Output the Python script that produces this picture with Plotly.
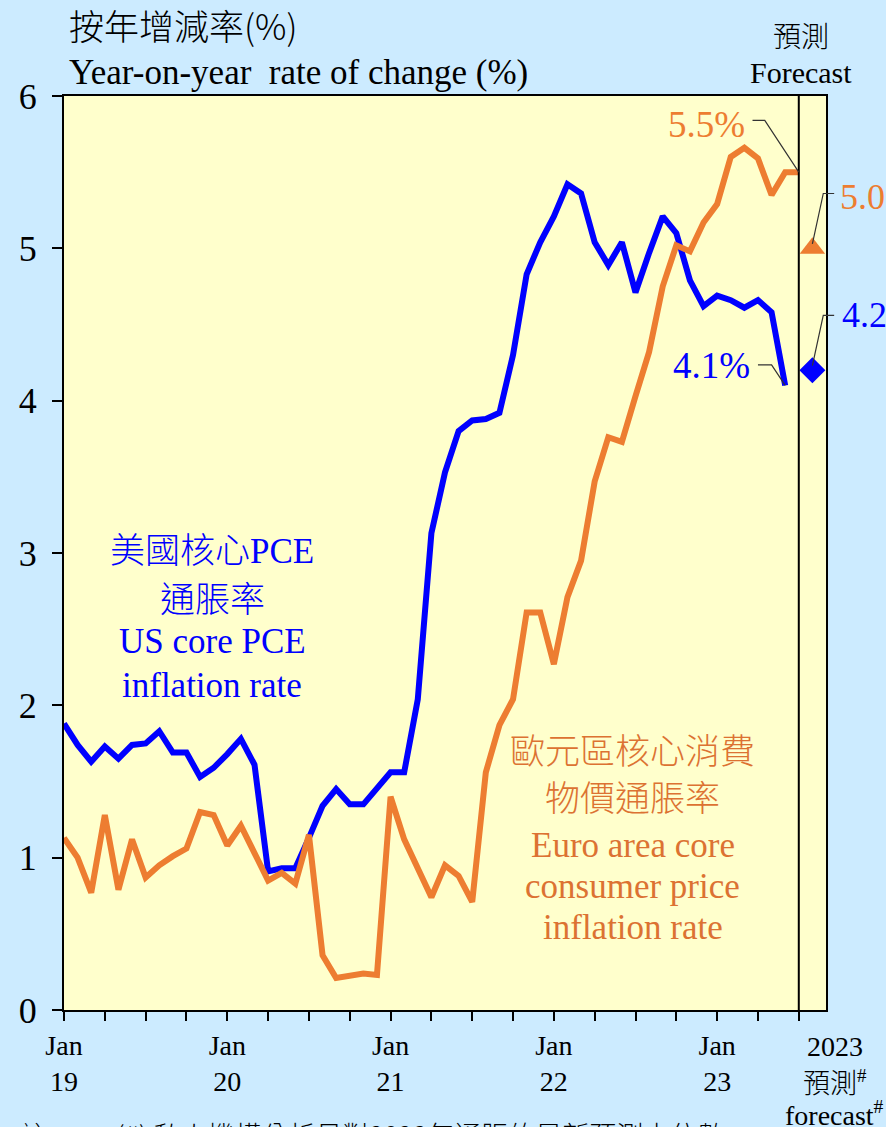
import plotly.graph_objects as go

# ---- data ----
months = list(range(55))  # Jan 2019 .. Jul 2023 (month index)
us_core_pce = [1.88, 1.74, 1.63, 1.73, 1.65, 1.74, 1.75, 1.83, 1.69, 1.69, 1.53, 1.59,
               1.68, 1.78, 1.61, 0.91, 0.93, 0.93, 1.13, 1.34, 1.45, 1.35, 1.35, 1.46,
               1.56, 1.56, 2.04, 3.13, 3.53, 3.80, 3.87, 3.88, 3.92, 4.30, 4.83, 5.04,
               5.21, 5.42, 5.36, 5.04, 4.89, 5.04, 4.71, 4.97, 5.21, 5.10, 4.79, 4.62,
               4.69, 4.66, 4.61, 4.66, 4.58, 4.10]
euro_core = [1.13, 1.00, 0.77, 1.28, 0.79, 1.12, 0.87, 0.95, 1.01, 1.06, 1.30, 1.28,
             1.08, 1.21, 1.03, 0.85, 0.90, 0.83, 1.15, 0.36, 0.21, 0.23, 0.24, 0.23,
             1.40, 1.12, 0.93, 0.74, 0.95, 0.88, 0.71, 1.56, 1.87, 2.04, 2.61, 2.61,
             2.27, 2.71, 2.95, 3.47, 3.76, 3.73, 4.03, 4.32, 4.75, 5.02, 4.98, 5.17,
             5.29, 5.60, 5.66, 5.59, 5.35, 5.50, 5.50]
forecast_x = 55
us_forecast = 4.2
euro_forecast = 5.0
divider_x = 54
year_ticks = [0, 12, 24, 36, 48]
year_labels = ["Jan<br>19", "Jan<br>20", "Jan<br>21", "Jan<br>22", "Jan<br>23"]

BLUE = "#0000FF"
ORANGE = "#ED7D31"
ORANGE_TXT = "#DC7232"
BG = "#CCEBFF"
SERIF = "Liberation Serif, Times New Roman, Noto Sans CJK TC, serif"
CJK = "Noto Sans CJK TC, Liberation Serif"

X_RANGE = [0, 56]
Y_RANGE = [0, 6]

def px(x):
    return (x - X_RANGE[0]) / (X_RANGE[1] - X_RANGE[0])

def py(y):
    return (y - Y_RANGE[0]) / (Y_RANGE[1] - Y_RANGE[0])

fig = go.Figure()
fig.add_trace(go.Scatter(x=months[:len(us_core_pce)], y=us_core_pce, mode="lines",
                         line=dict(color=BLUE, width=6), showlegend=False))
fig.add_trace(go.Scatter(x=months[:len(euro_core)], y=euro_core, mode="lines",
                         line=dict(color=ORANGE, width=6), showlegend=False))
fig.add_trace(go.Scatter(x=[forecast_x], y=[euro_forecast], mode="markers",
                         marker=dict(symbol="triangle-up", size=22, color=ORANGE),
                         showlegend=False, cliponaxis=False))
fig.add_trace(go.Scatter(x=[forecast_x], y=[us_forecast], mode="markers",
                         marker=dict(symbol="diamond", size=20, color=BLUE),
                         showlegend=False, cliponaxis=False))

# forecast divider
fig.add_shape(type="line", xref="x", yref="y", x0=divider_x, x1=divider_x, y0=0, y1=6,
              line=dict(color="black", width=2))

# leader lines (paper coords computed from data scales)
def leader(points, color="#333333"):
    path = "M " + " L ".join(f"{px(a)},{py(b)}" for a, b in points)
    fig.add_shape(type="path", xref="paper", yref="paper", path=path,
                  line=dict(color=color, width=1.2))

leader([(len(euro_core) - 1, euro_core[-1]), (51.5, 5.84), (50.6, 5.84)])
leader([(len(us_core_pce) - 1, us_core_pce[-1]), (52.0, 4.235), (51.0, 4.235)])
leader([(forecast_x, euro_forecast + 0.03), (55.8, 5.36), (56.6, 5.36)])
leader([(forecast_x, us_forecast + 0.03), (55.8, 4.56), (56.6, 4.56)])

ann = []
def add_text(text, x, y, size, color="black", xref="x", yref="y", xanchor="center",
             yanchor="middle", family=SERIF, weight=None):
    f = dict(family=family, size=size, color=color)
    if weight:
        f["weight"] = weight
    ann.append(dict(text=text, x=x, y=y, xref=xref, yref=yref, showarrow=False,
                    xanchor=xanchor, yanchor=yanchor, font=f))

# titles
add_text("按年增減率(%)", 0.004, 1.078, 35, xref="paper", yref="paper", xanchor="left",
         family=CJK, weight=300)
add_text("Year-on-year  rate of change (%)", 0.004, 1.026, 35, xref="paper", yref="paper",
         xanchor="left")
add_text("預測", 0.967, 1.067, 28, xref="paper", yref="paper", family=CJK, weight=300)
add_text("Forecast", 0.967, 1.026, 30, xref="paper", yref="paper")

# series labels
for txt, yy in [("美國核心PCE", 3.01), ("通脹率", 2.69), ("US core PCE", 2.42),
                ("inflation rate", 2.13)]:
    add_text(txt, 10.9, yy, 35, color=BLUE, weight=300)
for txt, yy in [("歐元區核心消費", 1.69), ("物價通脹率", 1.38), ("Euro area core", 1.08),
                ("consumer price", 0.81), ("inflation rate", 0.54)]:
    add_text(txt, 41.8, yy, 35, color=ORANGE_TXT, weight=300)

# value labels
add_text(f"{euro_core[-1]:.1f}%", 47.2, 5.81, 37, color=ORANGE)
add_text(f"{us_core_pce[-1]:.1f}%", 47.6, 4.23, 37, color=BLUE)
add_text(f"{euro_forecast:.1f}", 1.0157, py(5.34), 36, color=ORANGE, xref="paper",
         yref="paper", xanchor="left")
add_text(f"{us_forecast:.1f}", 1.0183, py(4.56), 36, color=BLUE, xref="paper",
         yref="paper", xanchor="left")

# forecast x label
add_text("2023", 1.0118, -0.040, 28, xref="paper", yref="paper")
add_text("預測<sup>#</sup>", 1.0118, -0.079, 27, xref="paper", yref="paper", weight=300)
add_text("forecast<sup>#</sup>", 1.0118, -0.113, 28, xref="paper", yref="paper")

# footnote (partially cut at the bottom)
add_text("註：", -0.06, -0.113, 27, xref="paper", yref="paper", xanchor="left",
         yanchor="top", family=CJK, weight=300)
add_text("(#) 私人機構分析員對2023年通脹的最新預測中位數。", 0.066, -0.113, 27,
         xref="paper", yref="paper", xanchor="left", yanchor="top", family=CJK, weight=300)

fig.update_layout(
    width=886, height=1127,
    margin=dict(l=64, r=60, t=96, b=117),
    paper_bgcolor=BG,
    plot_bgcolor="#FFFFCC",
    annotations=ann,
    xaxis=dict(range=X_RANGE, tickmode="array",
               tickvals=list(range(0, divider_x + 1, 3)),
               ticktext=[year_labels[year_ticks.index(v)] if v in year_ticks else ""
                         for v in range(0, divider_x + 1, 3)],
               ticks="outside", ticklen=9, tickwidth=2, tickcolor="black",
               showline=True, linecolor="black", linewidth=2, mirror=True,
               showgrid=False, zeroline=False,
               tickfont=dict(family=SERIF, size=28, color="black")),
    yaxis=dict(range=Y_RANGE, dtick=1, ticks="outside", ticklen=10, tickwidth=2,
               tickcolor="black", showline=True, linecolor="black", linewidth=2,
               mirror=True, showgrid=False, zeroline=False, ticklabelstandoff=8,
               tickfont=dict(family=SERIF, size=36, color="black")),
)

fig.write_html("out.html",
               config={"displayModeBar": False},
               post_script="document.body.style.margin='0';"
                           "document.body.style.overflow='hidden';"
                           f"document.body.style.background='{BG}';")
